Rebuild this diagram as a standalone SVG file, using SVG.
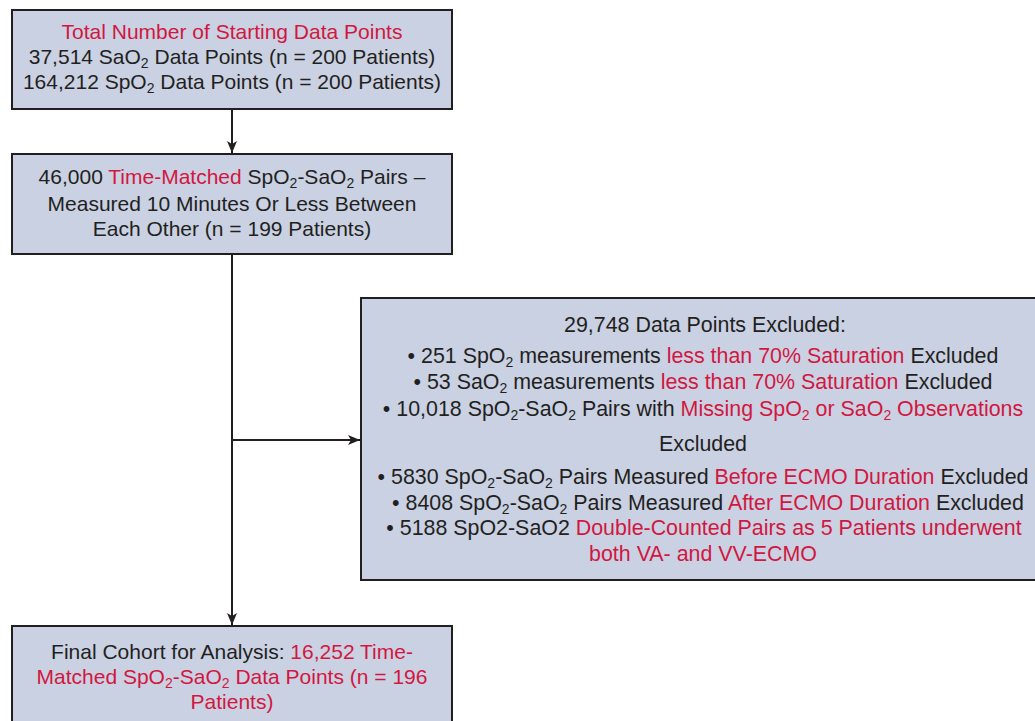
<svg xmlns="http://www.w3.org/2000/svg" width="1035" height="721" viewBox="0 0 1035 721">
  <style>
    .box { fill: #c9d1e3; stroke: #231f20; stroke-width: 2; }
    .t { font-family: "Liberation Sans", Arial, sans-serif; font-size: 21px; fill: #231f20; text-anchor: middle; }
    .w { font-size: 21.4px; }
    .r { fill: #d2173f; }
    .sub { font-size: 14px; }
    .wire { stroke: #231f20; stroke-width: 2; fill: none; }
  </style>
  <defs>
    <marker id="arrow" viewBox="0 0 12 10" refX="12" refY="5" markerWidth="12" markerHeight="10" markerUnits="userSpaceOnUse" orient="auto">
      <path d="M0,0 L12,5 L0,10 L3,5 z" fill="#231f20"/>
    </marker>
  </defs>
  <rect width="1035" height="721" fill="#ffffff"/>

  <!-- connectors -->
  <g id="connectors">
    <line class="wire" x1="232" y1="109" x2="232" y2="153" marker-end="url(#arrow)"/>
    <line class="wire" x1="232" y1="254" x2="232" y2="625" marker-end="url(#arrow)"/>
    <line class="wire" x1="232" y1="440" x2="360" y2="440" marker-end="url(#arrow)"/>
  </g>

  <!-- starting data -->
  <g id="start">
    <rect class="box" x="12" y="10" width="440" height="99"/>
    <text class="t" x="232" y="39"><tspan class="r">Total Number of Starting Data Points</tspan></text>
    <text class="t" x="232" y="64">37,514 SaO<tspan class="sub" dy="4">2</tspan><tspan dy="-4"> Data Points (n = 200 Patients)</tspan></text>
    <text class="t" x="232" y="89">164,212 SpO<tspan class="sub" dy="4">2</tspan><tspan dy="-4"> Data Points (n = 200 Patients)</tspan></text>
  </g>

  <!-- time-matched pairs -->
  <g id="matched">
    <rect class="box" x="12" y="154" width="440" height="100"/>
    <text class="t" x="232" y="184">46,000 <tspan class="r">Time-Matched</tspan> SpO<tspan class="sub" dy="4">2</tspan><tspan dy="-4">-SaO</tspan><tspan class="sub" dy="4">2</tspan><tspan dy="-4"> Pairs –</tspan></text>
    <text class="t" x="232" y="211">Measured 10 Minutes Or Less Between</text>
    <text class="t" x="232" y="236">Each Other (n = 199 Patients)</text>
  </g>

  <!-- exclusions -->
  <g id="excluded">
    <rect class="box" x="361" y="298" width="690" height="282"/>
    <text class="t w" x="705" y="332">29,748 Data Points Excluded:</text>
    <text class="t w" x="703" y="363">• 251 SpO<tspan class="sub" dy="4">2</tspan><tspan dy="-4"> measurements </tspan><tspan class="r">less than 70% Saturation</tspan> Excluded</text>
    <text class="t w" x="703" y="389">• 53 SaO<tspan class="sub" dy="4">2</tspan><tspan dy="-4"> measurements </tspan><tspan class="r">less than 70% Saturation</tspan> Excluded</text>
    <text class="t w" x="703" y="416">• 10,018 SpO<tspan class="sub" dy="4">2</tspan><tspan dy="-4">-SaO</tspan><tspan class="sub" dy="4">2</tspan><tspan dy="-4"> Pairs with </tspan><tspan class="r">Missing SpO</tspan><tspan class="r sub" dy="4">2</tspan><tspan class="r" dy="-4"> or SaO</tspan><tspan class="r sub" dy="4">2</tspan><tspan class="r" dy="-4"> Observations</tspan></text>
    <text class="t w" x="703" y="451">Excluded</text>
    <text class="t w" x="703" y="484">• 5830 SpO<tspan class="sub" dy="4">2</tspan><tspan dy="-4">-SaO</tspan><tspan class="sub" dy="4">2</tspan><tspan dy="-4"> Pairs Measured </tspan><tspan class="r">Before ECMO Duration</tspan> Excluded</text>
    <text class="t w" x="708" y="510">• 8408 SpO<tspan class="sub" dy="4">2</tspan><tspan dy="-4">-SaO</tspan><tspan class="sub" dy="4">2</tspan><tspan dy="-4"> Pairs Measured </tspan><tspan class="r">After ECMO Duration</tspan> Excluded</text>
    <text class="t w" x="704" y="535">• 5188 SpO2-SaO2 <tspan class="r">Double-Counted Pairs as 5 Patients underwent</tspan></text>
    <text class="t w" x="703" y="561"><tspan class="r">both VA- and VV-ECMO</tspan></text>
  </g>

  <!-- final cohort -->
  <g id="final">
    <rect class="box" x="12" y="626" width="440" height="110"/>
    <text class="t" x="232" y="659">Final Cohort for Analysis: <tspan class="r">16,252 Time-</tspan></text>
    <text class="t r" x="232" y="684">Matched SpO<tspan class="sub" dy="4">2</tspan><tspan dy="-4">-SaO</tspan><tspan class="sub" dy="4">2</tspan><tspan dy="-4"> Data Points (n = 196</tspan></text>
    <text class="t r" x="232" y="709">Patients)</text>
  </g>
</svg>
